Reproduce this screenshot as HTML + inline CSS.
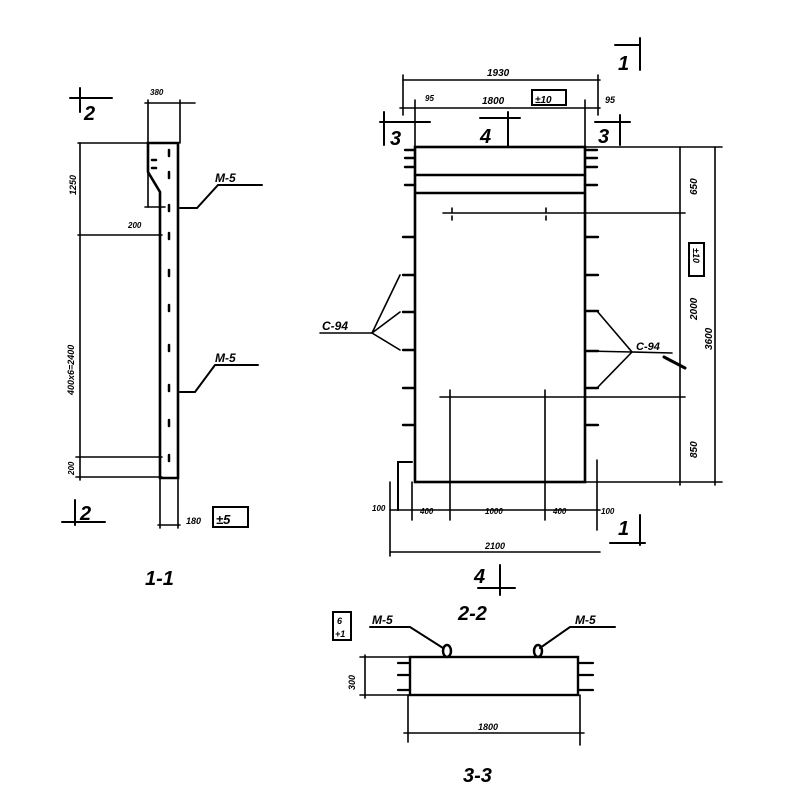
<!DOCTYPE html>
<html><head><meta charset="utf-8"><style>
body{margin:0;background:#fff;}
svg{display:block;}
text{font-family:"Liberation Sans",sans-serif;font-style:italic;font-weight:bold;fill:#000;}
</style></head><body>
<svg width="800" height="800" viewBox="0 0 800 800" xmlns="http://www.w3.org/2000/svg">
<g stroke="#000" fill="none" stroke-width="1.6" stroke-linecap="round">
<path d="M148 143 L178 143 L178 478 L160 478 L160 192 L148 172 Z" stroke-width="2.6"/>
<line x1="160" y1="478" x2="160" y2="528"/><line x1="178" y1="478" x2="178" y2="528"/>
<line x1="158" y1="525" x2="180" y2="525"/>
<line x1="148" y1="143" x2="148" y2="100"/><line x1="180" y1="143" x2="180" y2="100"/>
<line x1="145" y1="103" x2="195" y2="103"/>
<line x1="80" y1="143" x2="80" y2="480"/>
<line x1="78" y1="143" x2="148" y2="143"/>
<line x1="78" y1="235" x2="162" y2="235"/>
<line x1="76" y1="457" x2="162" y2="457"/>
<line x1="76" y1="477" x2="162" y2="477"/>
<line x1="148" y1="170" x2="148" y2="207"/><line x1="145" y1="207" x2="165" y2="207"/>
<g stroke-width="2.5">
<line x1="169" y1="150" x2="169" y2="156"/><line x1="169" y1="172" x2="169" y2="178"/><line x1="169" y1="205" x2="169" y2="211"/><line x1="169" y1="233" x2="169" y2="239"/><line x1="169" y1="270" x2="169" y2="276"/><line x1="169" y1="305" x2="169" y2="311"/><line x1="169" y1="345" x2="169" y2="351"/><line x1="169" y1="385" x2="169" y2="391"/><line x1="169" y1="420" x2="169" y2="426"/><line x1="169" y1="455" x2="169" y2="461"/>
<line x1="152" y1="160" x2="156" y2="160"/><line x1="152" y1="168" x2="156" y2="168"/>
</g>
<polyline points="180,208 197,208 218,185 262,185" stroke-width="2"/>
<polyline points="180,392 195,392 215,365 258,365" stroke-width="2"/>
<line x1="80" y1="88" x2="80" y2="112" stroke-width="2"/><line x1="70" y1="98" x2="112" y2="98" stroke-width="2"/>
<line x1="75" y1="500" x2="75" y2="525" stroke-width="2"/><line x1="62" y1="522" x2="105" y2="522" stroke-width="2"/>
<rect x="213" y="507" width="35" height="20" stroke-width="2"/>

<rect x="415" y="147" width="170" height="335" stroke-width="2.6"/>
<line x1="415" y1="175" x2="585" y2="175" stroke-width="2.4"/>
<line x1="415" y1="193" x2="585" y2="193" stroke-width="2.4"/>
<polyline points="412,462 398,462 398,510" stroke-width="2"/>
<line x1="597" y1="460" x2="597" y2="530"/>
<line x1="412" y1="482" x2="412" y2="520"/>
<g stroke-width="2.4">
<line x1="405" y1="150" x2="415" y2="150"/><line x1="405" y1="158" x2="415" y2="158"/><line x1="405" y1="167" x2="415" y2="167"/><line x1="405" y1="185" x2="415" y2="185"/>
<line x1="585" y1="150" x2="597" y2="150"/><line x1="585" y1="158" x2="597" y2="158"/><line x1="585" y1="167" x2="597" y2="167"/><line x1="585" y1="185" x2="597" y2="185"/>
<line x1="403" y1="237" x2="415" y2="237"/><line x1="403" y1="275" x2="415" y2="275"/><line x1="403" y1="312" x2="415" y2="312"/><line x1="403" y1="350" x2="415" y2="350"/><line x1="403" y1="388" x2="415" y2="388"/><line x1="403" y1="425" x2="415" y2="425"/>
<line x1="585" y1="237" x2="598" y2="237"/><line x1="585" y1="275" x2="598" y2="275"/><line x1="585" y1="311" x2="598" y2="311"/><line x1="585" y1="351" x2="598" y2="351"/><line x1="585" y1="388" x2="598" y2="388"/><line x1="585" y1="425" x2="598" y2="425"/>
</g>
<polyline points="400,275 372,333 400,312"/><polyline points="372,333 400,350"/>
<line x1="320" y1="333" x2="372" y2="333"/>
<polyline points="597,311 632,352 597,388"/><line x1="585" y1="351" x2="632" y2="352"/>
<line x1="632" y1="352" x2="672" y2="353"/><line x1="664" y1="357" x2="685" y2="368" stroke-width="3"/>
<line x1="443" y1="213" x2="685" y2="213"/>
<line x1="440" y1="397" x2="685" y2="397"/>
<line x1="452" y1="208" x2="452" y2="223" stroke-dasharray="4 4"/><line x1="546" y1="208" x2="546" y2="223" stroke-dasharray="4 4"/>
<line x1="450" y1="390" x2="450" y2="520"/><line x1="545" y1="390" x2="545" y2="520"/>
<line x1="585" y1="147" x2="722" y2="147"/><line x1="585" y1="482" x2="722" y2="482"/>
<line x1="680" y1="147" x2="680" y2="485"/><line x1="715" y1="147" x2="715" y2="485"/>
<rect x="689" y="243" width="15" height="33" stroke-width="2"/>
<line x1="403" y1="80" x2="600" y2="80"/>
<line x1="403" y1="75" x2="403" y2="115"/><line x1="598" y1="75" x2="598" y2="115"/>
<line x1="415" y1="100" x2="415" y2="147"/><line x1="585" y1="100" x2="585" y2="147"/>
<line x1="400" y1="108" x2="600" y2="108"/>
<rect x="532" y="90" width="34" height="15" stroke-width="2"/>
<line x1="380" y1="122" x2="430" y2="122" stroke-width="2"/><line x1="384" y1="112" x2="384" y2="145" stroke-width="2"/>
<line x1="480" y1="118" x2="520" y2="118" stroke-width="2"/><line x1="508" y1="112" x2="508" y2="147" stroke-width="2"/>
<line x1="595" y1="122" x2="630" y2="122" stroke-width="2"/><line x1="620" y1="115" x2="620" y2="145" stroke-width="2"/>
<line x1="615" y1="45" x2="640" y2="45" stroke-width="2"/><line x1="640" y1="38" x2="640" y2="70" stroke-width="2"/>
<line x1="390" y1="510" x2="600" y2="510"/>
<line x1="390" y1="482" x2="390" y2="556"/>
<line x1="390" y1="552" x2="600" y2="552"/>
<line x1="500" y1="565" x2="500" y2="595" stroke-width="2"/><line x1="478" y1="588" x2="515" y2="588" stroke-width="2"/>
<line x1="640" y1="515" x2="640" y2="545" stroke-width="2"/><line x1="610" y1="543" x2="645" y2="543" stroke-width="2"/>

<rect x="410" y="657" width="168" height="38" stroke-width="2.4"/>
<line x1="360" y1="657" x2="410" y2="657"/><line x1="360" y1="695" x2="410" y2="695"/>
<line x1="365" y1="655" x2="365" y2="698"/>
<g stroke-width="2.2">
<line x1="398" y1="663" x2="410" y2="663"/><line x1="398" y1="675" x2="410" y2="675"/><line x1="398" y1="690" x2="410" y2="690"/>
<line x1="578" y1="663" x2="593" y2="663"/><line x1="578" y1="675" x2="593" y2="675"/><line x1="578" y1="690" x2="593" y2="690"/>
</g>
<line x1="408" y1="695" x2="408" y2="742"/><line x1="580" y1="695" x2="580" y2="745"/>
<line x1="404" y1="733" x2="584" y2="733"/>
<rect x="333" y="612" width="18" height="28" stroke-width="2"/>
<polyline points="370,627 410,627 443,648" stroke-width="2"/>
<polyline points="615,627 570,627 540,648" stroke-width="2"/>
<ellipse cx="447" cy="651" rx="4" ry="6" stroke-width="2.5"/>
<ellipse cx="538" cy="651" rx="4" ry="6" stroke-width="2.5"/>
</g>
<g font-size="9">
<text x="150" y="95" font-size="8">380</text>
<text x="128" y="228" font-size="8">200</text>
<text transform="translate(76,195) rotate(-90)" font-size="9">1250</text>
<text transform="translate(74,395) rotate(-90)" font-size="9">400x6=2400</text>
<text transform="translate(74,475) rotate(-90)" font-size="8">200</text>
<text x="186" y="524" font-size="9">180</text>
<text x="487" y="76" font-size="10">1930</text>
<text x="425" y="101" font-size="8">95</text>
<text x="482" y="104" font-size="10">1800</text>
<text x="605" y="103" font-size="9">95</text>
<text x="372" y="511" font-size="8">100</text>
<text x="420" y="514" font-size="8">400</text>
<text x="485" y="514" font-size="8">1000</text>
<text x="553" y="514" font-size="8">400</text>
<text x="601" y="514" font-size="8">100</text>
<text x="485" y="549" font-size="9">2100</text>
<text transform="translate(697,195) rotate(-90)" font-size="10">650</text>
<text transform="translate(697,320) rotate(-90)" font-size="10">2000</text>
<text transform="translate(697,458) rotate(-90)" font-size="10">850</text>
<text transform="translate(712,350) rotate(-90)" font-size="10">3600</text>
<text x="478" y="730" font-size="9">1800</text>
<text transform="translate(355,690) rotate(-90)" font-size="9">300</text>
</g>
<g font-size="12">
<text x="215" y="182">M-5</text>
<text x="215" y="362">M-5</text>
<text x="322" y="330">C-94</text>
<text x="636" y="350" font-size="11">C-94</text>
<text x="372" y="624">M-5</text>
<text x="575" y="624">M-5</text>
</g>
<text x="216" y="524" font-size="13">±5</text>
<text x="535" y="103" font-size="10">±10</text>
<text transform="translate(693,248) rotate(90)" font-size="9">±10</text>
<text x="337" y="624" font-size="9">6</text>
<text x="335" y="637" font-size="9">+1</text>
<g font-size="20">
<text x="84" y="120">2</text>
<text x="80" y="520">2</text>
<text x="390" y="145">3</text>
<text x="480" y="143">4</text>
<text x="598" y="143">3</text>
<text x="618" y="70">1</text>
<text x="618" y="535">1</text>
<text x="474" y="583">4</text>
<text x="145" y="585">1-1</text>
<text x="458" y="620">2-2</text>
<text x="463" y="782">3-3</text>
</g>
</svg>
</body></html>
